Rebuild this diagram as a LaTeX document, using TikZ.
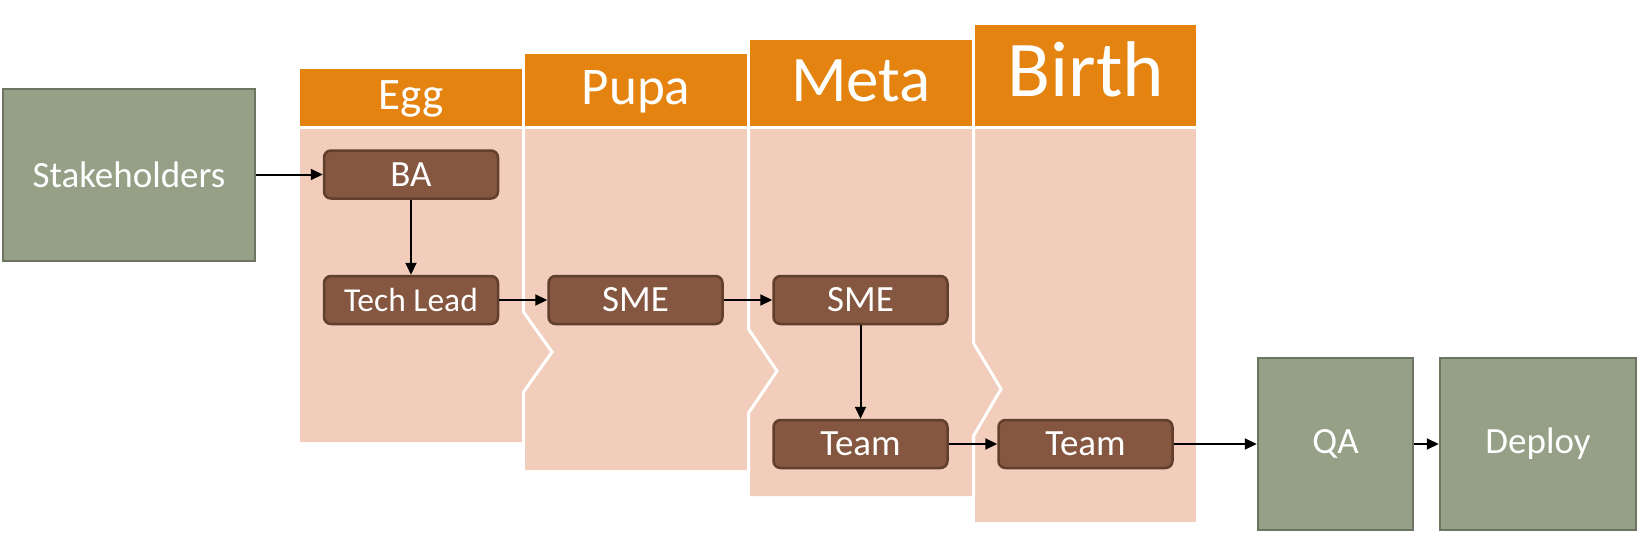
\documentclass[tikz,border=0pt]{standalone}
\usepackage{fontspec}
\setmainfont{Carlito}
\usetikzlibrary{arrows.meta}
\definecolor{hdr}{HTML}{E4830F}
\definecolor{body}{HTML}{F2CDBC}
\definecolor{brownf}{HTML}{855640}
\definecolor{brownd}{HTML}{623E2C}
\definecolor{greenf}{HTML}{95A087}
\definecolor{greend}{HTML}{6C7561}
\tikzset{
  x=1pt, y=-1pt,
  hdrtext/.style={anchor=base, text=white, inner sep=0pt},
  actor/.style={draw=brownd, fill=brownf, line width=2.5pt, rounded corners=7pt,
    minimum width=174pt, minimum height=48pt, text=white, font=\fontsize{37}{40}\selectfont, inner sep=0pt},
  sysbox/.style={draw=greend, fill=greenf, line width=2.5pt,
    text=white, font=\fontsize{37}{40}\selectfont, inner sep=0pt},
  sep/.style={draw=white, line width=3pt},
  flow/.style={draw=black, line width=2pt, -{Triangle[length=12pt,width=11pt]}}
}
\begin{document}
\begin{tikzpicture}
\useasboundingbox (0,0) rectangle (1640,533);
% column bodies (right to left so chevron points overlap)
\fill[body] (975,129) rectangle (1196,522);
\fill[body] (750,129) -- (973.5,129) -- (973.5,343) -- (1001,389) -- (973.5,436) -- (973.5,496) -- (750,496) -- cycle;
\fill[body] (525,129) -- (748.5,129) -- (748.5,329) -- (777,371) -- (748.5,413) -- (748.5,470) -- (525,470) -- cycle;
\fill[body] (300,129) -- (523.5,129) -- (523.5,312) -- (552,352) -- (523.5,392) -- (523.5,442) -- (300,442) -- cycle;
% separators
\draw[sep] (523.5,128) -- (523.5,312) -- (552,352) -- (523.5,392) -- (523.5,443.5);
\draw[sep] (748.5,128) -- (748.5,329) -- (777,371) -- (748.5,413) -- (748.5,471.5);
\draw[sep] (973.5,128) -- (973.5,343) -- (1001,389) -- (973.5,436) -- (973.5,497.5);
% headers
\fill[hdr] (300,69) rectangle (522,126);
\fill[hdr] (525,54) rectangle (747,126);
\fill[hdr] (750,40) rectangle (972,126);
\fill[hdr] (975,25) rectangle (1196,126);
\node[hdrtext, font=\fontsize{45}{48}\selectfont] (hegg) at (411,109) {Egg};
\node[hdrtext, font=\fontsize{53}{56}\selectfont] (hpupa) at (636,104) {Pupa};
\node[hdrtext, font=\fontsize{65}{68}\selectfont] (hmeta) at (861,101) {Meta};
\node[hdrtext, font=\fontsize{79}{82}\selectfont] (hbirth) at (1086,96) {Birth};
% green system boxes
\node[sysbox, minimum width=252pt, minimum height=172pt] (stake) at (129,175) {Stakeholders};
\node[sysbox, minimum width=155pt, minimum height=172pt] (qa) at (1335.5,444) {QA};
\node[sysbox, minimum width=196pt, minimum height=172pt] (deploy) at (1538,444) {Deploy};
% brown actor boxes
\node[actor] (ba) at (411,174.5) {BA};
\node[actor, font=\fontsize{33.5}{36}\selectfont] (tl) at (411,300) {Tech Lead};
\node[actor] (sme1) at (635.5,300) {SME};
\node[actor] (sme2) at (860.5,300) {SME};
\node[actor] (team1) at (860.5,444) {Team};
\node[actor] (team2) at (1085.5,444) {Team};
% connectors
\draw[flow] (stake.east |- ba.west) -- (ba.west);
\draw[flow] (ba.south) -- (tl.north);
\draw[flow] (tl.east) -- (sme1.west);
\draw[flow] (sme1.east) -- (sme2.west);
\draw[flow] (sme2.south) -- (team1.north);
\draw[flow] (team1.east) -- (team2.west);
\draw[flow] (team2.east) -- (qa.west);
\draw[flow] (qa.east) -- (deploy.west);
\end{tikzpicture}
\end{document}
